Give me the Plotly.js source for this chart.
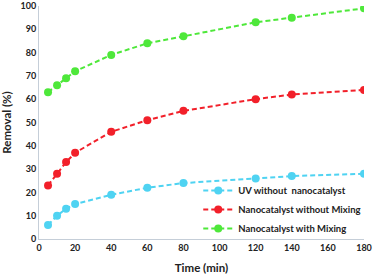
<!DOCTYPE html>
<html>
<head>
<meta charset="utf-8">
<script src="https://cdn.plot.ly/plotly-3.0.1.min.js"></script>
<style>
  html, body { margin: 0; padding: 0; background: #fff; }
  #chart { width: 373px; height: 279px; }
</style>
</head>
<body>
<div id="chart"></div>
<script>
// time points (min)
var times = [5, 10, 15, 20, 40, 60, 80, 120, 140, 180];

// removal (%) for each run
var uvNoCatalyst = [6, 10, 13, 15, 19, 22, 24, 26, 27, 28];
var catalystNoMixing = [23, 28, 33, 37, 46, 51, 55, 60, 62, 64];
var catalystMixing = [63, 66, 69, 72, 79, 84, 87, 93, 95, 99];

var seriesNames = ['UV without  nanocatalyst', 'Nanocatalyst without Mixing', 'Nanocatalyst with Mixing'];
var seriesColors = ['#4fd3f2', '#f2202a', '#4ee83a'];

var xTicks = [0, 20, 40, 60, 80, 100, 120, 140, 160, 180];
var yTicks = [0, 10, 20, 30, 40, 50, 60, 70, 80, 90, 100];

var font = 'Lato, "Open Sans", sans-serif';

function makeTrace(ys, i) {
    return {
        x: times,
        y: ys,
        type: 'scatter',
        mode: 'lines+markers',
        name: seriesNames[i],
        line: {color: seriesColors[i], width: 2, dash: '5px,3px'},
        marker: {color: seriesColors[i], size: 8}
    };
}

var data = [
    makeTrace(uvNoCatalyst, 0),
    makeTrace(catalystNoMixing, 1),
    makeTrace(catalystMixing, 2)
];

var layout = {
    width: 373,
    height: 279,
    margin: {l: 39, r: 9, t: 6, b: 40},
    paper_bgcolor: '#fff',
    plot_bgcolor: '#fff',
    font: {family: font, size: 9, color: '#222', weight: 'bold'},
    showlegend: true,
    legend: {
        x: 0.49, y: 0.27, xanchor: 'left', yanchor: 'top',
        bgcolor: 'rgba(0,0,0,0)',
        font: {family: font, size: 9.5, color: '#222', weight: 'bold'},
        itemwidth: 30
    },
    xaxis: {
        range: [0, 180],
        tickvals: xTicks,
        showgrid: false,
        zeroline: false,
        showline: true,
        linecolor: '#c5ced8',
        linewidth: 1,
        ticks: '',
        tickfont: {family: font, size: 9, color: '#222', weight: 'bold'},
        title: {text: 'Time (min)', font: {family: font, size: 11.5, color: '#222', weight: 'bold'}, standoff: 12}
    },
    yaxis: {
        range: [0, 100],
        tickvals: yTicks,
        showgrid: false,
        zeroline: false,
        showline: true,
        linecolor: '#c5ced8',
        linewidth: 1,
        ticks: '',
        tickfont: {family: font, size: 9, color: '#222', weight: 'bold'},
        ticklabeloverflow: 'allow',
        title: {text: 'Removal (%)', font: {family: font, size: 11.5, color: '#222', weight: 'bold'}, standoff: 11}
    }
};

Plotly.newPlot('chart', data, layout, {displayModeBar: false, staticPlot: true});
</script>
</body>
</html>
